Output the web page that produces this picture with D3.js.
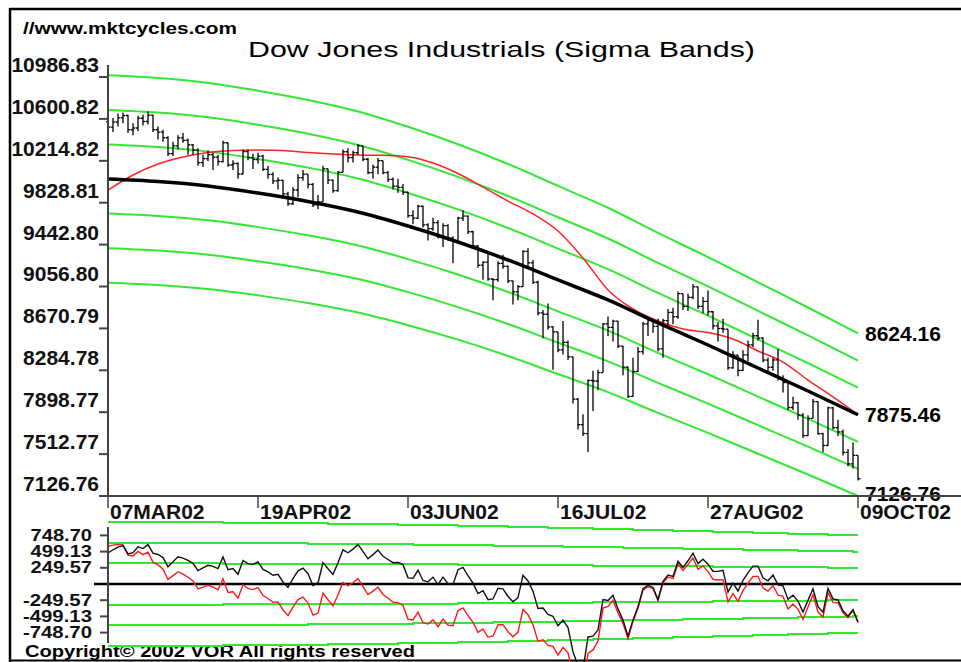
<!DOCTYPE html>
<html><head><meta charset="utf-8">
<script src="https://cdn.jsdelivr.net/npm/d3@7"></script>
<style>body{margin:0;background:#fff}svg{display:block}text{font-family:"Liberation Sans",Arial,sans-serif}</style>
</head><body><svg id="c" width="961" height="662"></svg>
<script>
// ---------------- data ----------------
const tickLabels = ["07MAR02","19APR02","03JUN02","16JUL02","27AUG02","09OCT02"];
const tickDays = [0,30,60,90,120,150];
const yTickValues = [7126.76,7512.77,7898.77,8284.78,8670.79,9056.80,9442.80,9828.81,10214.82,10600.82,10986.83];
const oscTickValues = [748.70,499.13,249.57,-249.57,-499.13,-748.70];
const rightLabels = [8624.16,7875.46,7126.76];
const sigma = 249.57;          // 1 sigma at the last bar
const lastCenter = 7875.46;
const firstOpen = 10574;

// daily Dow Jones closes / highs / lows, 07MAR02 .. 09OCT02 (151 trading days)
const closes = [10525,10572,10611,10632,10501,10517,10607,10577,10635,10501,
10479,10427,10281,10353,10426,10403,10362,10313,10198,10235,
10271,10249,10208,10381,10176,10190,10093,10300,10244,10227,
10257,10136,10089,10030,10035,9910,9819,9946,10059,10092,
9998,9808,9837,10141,10037,9940,10109,10298,10244,10289,
10353,10229,10105,10157,10216,10105,10043,9981,9970,9925,
9709,9687,9796,9624,9589,9645,9517,9617,9502,9474,
9687,9706,9561,9431,9253,9281,9126,9120,9269,9243,
9109,9008,9055,9380,9275,9096,8813,8801,8684,8639,
8473,8542,8409,8019,7784,7702,8191,8186,8264,8712,
8680,8737,8507,8313,8044,8274,8456,8712,8745,8689,
8482,8743,8818,8778,8991,8873,8957,9054,8873,8919,
8824,8694,8670,8664,8308,8425,8284,8427,8519,8603,
8581,8379,8313,8380,8208,8172,7942,7986,7872,7683,
7842,7997,7701,7592,7939,7756,7717,7528,7423,7501,
7286];
const highs = [10620,10610,10650,10660,10640,10560,10630,10640,10670,10640,
10530,10500,10440,10390,10450,10470,10420,10370,10330,10270,
10310,10290,10270,10400,10380,10220,10200,10320,10320,10280,
10290,10270,10170,10110,10060,10040,9930,9970,10090,10130,
10090,10010,9900,10170,10140,10040,10120,10320,10330,10310,
10370,10350,10240,10180,10240,10210,10120,10060,10050,10000,
9930,9760,9810,9800,9640,9690,9670,9640,9630,9520,
9700,9760,9710,9570,9440,9290,9360,9130,9290,9350,
9250,9110,9070,9390,9410,9300,9110,8840,8900,8690,
8640,8740,8560,8410,8030,7880,8200,8280,8290,8720,
8780,8750,8740,8510,8320,8400,8500,8730,8770,8750,
8760,8760,8850,8860,9010,8990,8990,9080,9050,8960,
9020,8830,8730,8760,8660,8460,8420,8470,8560,8630,
8750,8590,8400,8400,8480,8240,8170,8040,7990,7890,
7870,8020,8000,7710,7950,7950,7830,7740,7560,7620,
7500];
const lows = [10470,10480,10530,10560,10470,10450,10490,10540,10550,10480,
10410,10390,10260,10260,10320,10380,10270,10270,10170,10160,
10210,10130,10170,10200,10160,10130,10050,10090,10220,10140,
10190,10120,10050,10000,9950,9890,9800,9810,9880,10030,
9960,9790,9770,9840,10000,9920,9930,10110,10200,10200,
10270,10210,10090,10050,10090,10090,10020,9950,9920,9900,
9690,9630,9680,9600,9480,9570,9500,9420,9480,9270,
9480,9660,9540,9410,9230,9120,9110,8930,9100,9220,
9090,8890,8930,9060,9230,9080,8790,8580,8660,8290,
8450,8430,8380,7980,7740,7680,7532,7910,8100,8270,
8600,8550,8490,8240,8030,8040,8270,8430,8600,8630,
8460,8400,8700,8710,8760,8840,8830,8940,8850,8810,
8790,8660,8550,8630,8290,8300,8230,8280,8370,8500,
8560,8360,8250,8280,8190,8080,7920,7920,7830,7660,
7680,7840,7690,7530,7590,7740,7680,7500,7400,7380,
7270];

// regression (centre) line, read every 10 trading days
const centerDays = [0,10,20,30,40,50,60,70,80,90,100,110,120,130,140,150];
const centerVals = [10047,10024,9983,9918,9840,9743,9614,9467,9301,9117,8933,8721,8518,8306,8094,7875.46];
// red average line, read every 5 trading days
const maDays = [0,5,10,15,20,25,30,35,40,45,50,55,60,65,70,75,80,85,90,95,100,105,110,115,120,125,130,135,140,145,150];
const maVals = [9945,10084,10185,10250,10291,10310,10314,10310,10291,10277,10268,10266,10253,10195,10098,9973,9844,9725,9568,9319,9025,8850,8739,8665,8633,8573,8463,8361,8195,8039,7875.46];
const bandLevels = [3,2,1,-1,-2,-3];

// ---------------- drawing ----------------
const svg = d3.select("#c");
const x = d3.scaleLinear().domain([0,150]).range([108,858]);
const y = d3.scaleLinear().domain([7126.76,10986.83]).range([496,77]);
const yo = d3.scaleLinear().domain([-748.70,748.70]).range([632.6,535.4]);
const centerAt = d3.scaleLinear().domain(centerDays).range(centerVals);
const maAt = d3.scaleLinear().domain(maDays).range(maVals);
const pct = sigma / lastCenter;
const GREEN = "#33e833";

// frame
svg.append("line").attr("x1",10).attr("x2",961).attr("y1",9).attr("y2",9).attr("stroke","#000").attr("stroke-width",2.5);
svg.append("line").attr("x1",10).attr("x2",10).attr("y1",8).attr("y2",662).attr("stroke","#000").attr("stroke-width",2.5);
svg.append("line").attr("x1",10).attr("x2",961).attr("y1",660.5).attr("y2",660.5).attr("stroke","#000").attr("stroke-width",2);

// headings
svg.append("text").attr("x",23).attr("y",34).attr("font-size",16).attr("font-weight","bold")
  .attr("textLength",214).attr("lengthAdjust","spacingAndGlyphs").text("//www.mktcycles.com");
svg.append("text").attr("x",248).attr("y",57).attr("font-size",22)
  .attr("textLength",507).attr("lengthAdjust","spacingAndGlyphs").text("Dow Jones Industrials (Sigma Bands)");
svg.append("text").attr("x",25).attr("y",657).attr("font-size",16).attr("font-weight","bold")
  .attr("textLength",390).attr("lengthAdjust","spacingAndGlyphs").text("Copyright\u00A9 2002 VOR All rights reserved");

// sigma bands (top)
const curveLine = d3.line().x(d=>x(d[0])).y(d=>y(d[1])).curve(d3.curveMonotoneX);
bandLevels.forEach(k=>{
  svg.append("path").attr("fill","none").attr("stroke",GREEN).attr("stroke-width",2)
    .attr("d",curveLine(centerDays.map((d,i)=>[d,centerVals[i]*(1+k*pct)])));
});
// red average
svg.append("path").attr("fill","none").attr("stroke","#ff2222").attr("stroke-width",1.5)
  .attr("d",curveLine(maDays.map((d,i)=>[d,maVals[i]])));
// price bars (high-low with open / close ticks)
const bars = svg.append("g").attr("stroke","#000").attr("stroke-width",1.3);
closes.forEach((c,i)=>{
  const o = i===0 ? firstOpen : closes[i-1];
  bars.append("line").attr("x1",x(i)).attr("x2",x(i)).attr("y1",y(Math.max(highs[i],o))).attr("y2",y(Math.min(lows[i],o)));
  bars.append("line").attr("x1",x(i)-2).attr("x2",x(i)).attr("y1",y(o)).attr("y2",y(o));
  bars.append("line").attr("x1",x(i)).attr("x2",x(i)+2.5).attr("y1",y(c)).attr("y2",y(c));
});
// regression line
svg.append("path").attr("fill","none").attr("stroke","#000").attr("stroke-width",3.5)
  .attr("d",curveLine(centerDays.map((d,i)=>[d,centerVals[i]])));

// right labels
svg.selectAll(".rl").data(rightLabels).enter().append("text")
  .attr("x",865).attr("y",(v,i)=>y(v)+(i===2?5:7.5)).attr("font-size",21).attr("font-weight","bold")
  .text(v=>v.toFixed(2));

// y axis main
svg.append("line").attr("x1",108).attr("x2",108).attr("y1",65).attr("y2",497).attr("stroke","#444").attr("stroke-width",2);
yTickValues.forEach(v=>{
  svg.append("line").attr("x1",99).attr("x2",108).attr("y1",y(v)).attr("y2",y(v)).attr("stroke","#444").attr("stroke-width",2);
  svg.append("text").attr("x",99).attr("y",y(v)-5).attr("text-anchor","end").attr("font-size",21).attr("font-weight","bold").attr("fill","#111").text(v.toFixed(2));
});
// x axis
svg.append("line").attr("x1",108).attr("x2",961).attr("y1",496).attr("y2",496).attr("stroke","#444").attr("stroke-width",2);
tickDays.forEach((d,i)=>{
  svg.append("line").attr("x1",x(d)).attr("x2",x(d)).attr("y1",496).attr("y2",508).attr("stroke","#444").attr("stroke-width",1.5);
  svg.append("text").attr("x",x(d)+2).attr("y",519).attr("font-size",21).attr("font-weight","bold").attr("fill","#111").text(tickLabels[i]);
});

// ---------------- oscillator panel ----------------
const days = d3.range(0,151);
bandLevels.forEach(k=>{
  const pts = days.map(d=>[x(d), Math.round(yo(k*centerAt(d)*pct))]);
  svg.append("path").attr("fill","none").attr("stroke",GREEN).attr("stroke-width",2)
    .attr("d",d3.line().curve(d3.curveStepAfter)(pts));
});
svg.append("line").attr("x1",94).attr("x2",961).attr("y1",yo(0)).attr("y2",yo(0)).attr("stroke","#000").attr("stroke-width",2.5);
const oscLine = d3.line().x((v,i)=>x(i)).y(v=>yo(v));
const oscCenter = closes.map((c,i)=>c-centerAt(i));
const oscMA = closes.map((c,i)=>c-maAt(i));
svg.append("path").attr("fill","none").attr("stroke","#ff1a1a").attr("stroke-width",1.4).attr("d",oscLine(oscMA));
svg.append("path").attr("fill","none").attr("stroke","#111").attr("stroke-width",1.4).attr("d",oscLine(oscCenter));
svg.append("line").attr("x1",108).attr("x2",108).attr("y1",527).attr("y2",643).attr("stroke","#444").attr("stroke-width",2);
oscTickValues.forEach(v=>{
  svg.append("line").attr("x1",100).attr("x2",108).attr("y1",yo(v)).attr("y2",yo(v)).attr("stroke","#444").attr("stroke-width",2);
  const t = v.toFixed(2);
  // squat lettering: same width as 21px bold, shorter height
  svg.append("text").attr("x",92).attr("y",yo(v)+5.5).attr("text-anchor","end").attr("font-size",17).attr("font-weight","bold").attr("fill","#111")
    .attr("textLength", t.length*11.2 + (t[0]==="-"?-3.5:0) - 5.8).attr("lengthAdjust","spacingAndGlyphs").text(t);
});
</script></body></html>
